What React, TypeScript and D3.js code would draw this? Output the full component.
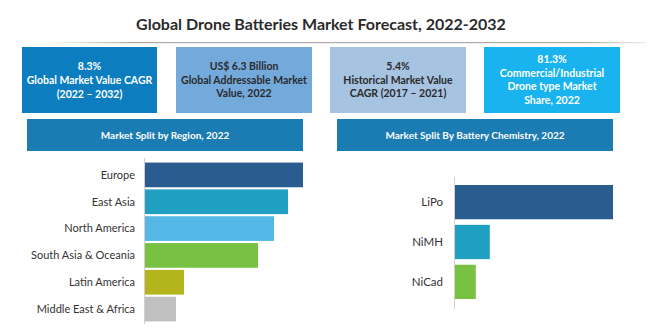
import React from "react";
import * as d3 from "d3";

const W = 650;
const H = 329;

const TITLE = "Global Drone Batteries Market Forecast, 2022-2032";

const statLines1 = ["8.3%", "Global Market Value CAGR", "(2022 – 2032)"];
const statLines2 = ["US$ 6.3 Billion", "Global Addressable Market", "Value, 2022"];
const statLines3 = ["5.4%", "Historical Market Value", "CAGR (2017 – 2021)"];
const statLines4 = ["81.3%", "Commercial/Industrial", "Drone type Market", "Share, 2022"];

const bannerLabels = ["Market Split by Region, 2022", "Market Split  By Battery Chemistry, 2022"];

const regions = ["Europe", "East Asia", "North America", "South Asia & Oceania", "Latin America", "Middle East & Africa"];
const regionValues = [31.6, 28.6, 25.8, 22.6, 7.8, 6.2];
const regionColors = ["#2a5d8f", "#1f9fc1", "#55b7e6", "#79c143", "#b4b41c", "#c0c0c0"];

const chemistries = ["LiPo", "NiMH", "NiCad"];
const chemistryValues = [74.5, 16.4, 9.8];
const chemistryColors = ["#2a5d8f", "#1f9fc1", "#79c143"];

const FONT = "Lato, 'Open Sans', sans-serif";

type Box = { x: number; y: number; w: number; h: number; fill: string; color: string; lines: string[]; lh: number };

export default function App() {
  const boxes: Box[] = [
    { x: 22, y: 47, w: 135, h: 66, fill: "#0c7ebf", color: "#ffffff", lines: statLines1, lh: 14 },
    { x: 176, y: 47, w: 136, h: 66, fill: "#74a9dc", color: "#2a2a2a", lines: statLines2, lh: 13.5 },
    { x: 330, y: 47, w: 136, h: 66, fill: "#a6c3e1", color: "#2a2a2a", lines: statLines3, lh: 13.5 },
    { x: 484, y: 47, w: 136, h: 66, fill: "#19b3f0", color: "#ffffff", lines: statLines4, lh: 13.5 },
  ];
  const banners = [
    { x: 27, y: 119, w: 276, h: 32, label: bannerLabels[0] },
    { x: 337, y: 119, w: 276, h: 32, label: bannerLabels[1] },
  ];

  // Left chart scales
  const yL = d3.scaleBand<string>().domain(regions).range([161.5, 322.5]).paddingInner(0.08).paddingOuter(0.04);
  const xL = d3.scaleLinear().domain([0, d3.max(regionValues) as number]).range([145, 303]);

  // Right chart scales
  const yR = d3.scaleBand<string>().domain(chemistries).range([181, 303]).paddingInner(0.14).paddingOuter(0.1);
  const xR = d3.scaleLinear().domain([0, d3.max(chemistryValues) as number]).range([455, 613]);

  return (
    <svg width={W} height={H} style={{ position: "absolute", left: 0, top: 0, background: "#fff" }}>
      <defs>
        <linearGradient id="rule" x1="0" x2="1" y1="0" y2="0">
          <stop offset="0" stopColor="#bbb" stopOpacity="0" />
          <stop offset="0.15" stopColor="#aaa" stopOpacity="1" />
          <stop offset="0.9" stopColor="#aaa" stopOpacity="1" />
          <stop offset="1" stopColor="#bbb" stopOpacity="0.3" />
        </linearGradient>
      </defs>
      <rect x={0} y={0} width={W} height={H} fill="#fff" />
      <text x={321} y={30} textAnchor="middle" fontFamily={FONT} fontWeight={700} fontSize={16} fill="#2b2b2b">
        {TITLE}
      </text>
      <rect x={40} y={42} width={606} height={1.2} fill="url(#rule)" />

      {boxes.map((b, i) => {
        const n = b.lines.length;
        const cy = b.y + b.h / 2;
        const start = cy - ((n - 1) * b.lh) / 2;
        return (
          <g key={i}>
            <rect x={b.x} y={b.y} width={b.w} height={b.h} fill={b.fill} />
            {b.lines.map((l, j) => (
              <text key={j} x={b.x + b.w / 2} y={start + j * b.lh} dy="0.35em" textAnchor="middle"
                fontFamily={FONT} fontWeight={700} fontSize={10.5} fill={b.color}>
                {l}
              </text>
            ))}
          </g>
        );
      })}

      {banners.map((b, i) => (
        <g key={i}>
          <rect x={b.x} y={b.y} width={b.w} height={b.h} fill="#1b7bb3" />
          <text x={b.x + b.w / 2} y={b.y + b.h / 2} dy="0.35em" textAnchor="middle"
            fontFamily={FONT} fontWeight={700} fontSize={10} fill="#ffffff">
            {b.label}
          </text>
        </g>
      ))}

      {/* Left chart */}
      <line x1={144.5} x2={144.5} y1={158} y2={324} stroke="#d8cccc" strokeWidth={1} />
      {regions.map((r, i) => (
        <g key={r}>
          <rect x={xL(0)} y={yL(r)} width={xL(regionValues[i]) - xL(0)} height={yL.bandwidth()} fill={regionColors[i]} />
          <text x={135} y={(yL(r) as number) + yL.bandwidth() / 2} dy="0.35em" textAnchor="end"
            fontFamily={FONT} fontSize={11} fill="#333">
            {r}
          </text>
        </g>
      ))}

      {/* Right chart */}
      <line x1={454.5} x2={454.5} y1={177} y2={309} stroke="#d8cccc" strokeWidth={1} />
      {chemistries.map((c, i) => (
        <g key={c}>
          <rect x={xR(0)} y={yR(c)} width={xR(chemistryValues[i]) - xR(0)} height={yR.bandwidth()} fill={chemistryColors[i]} />
          <text x={443} y={(yR(c) as number) + yR.bandwidth() / 2} dy="0.35em" textAnchor="end"
            fontFamily={FONT} fontSize={11.5} fill="#333">
            {c}
          </text>
        </g>
      ))}
    </svg>
  );
}
